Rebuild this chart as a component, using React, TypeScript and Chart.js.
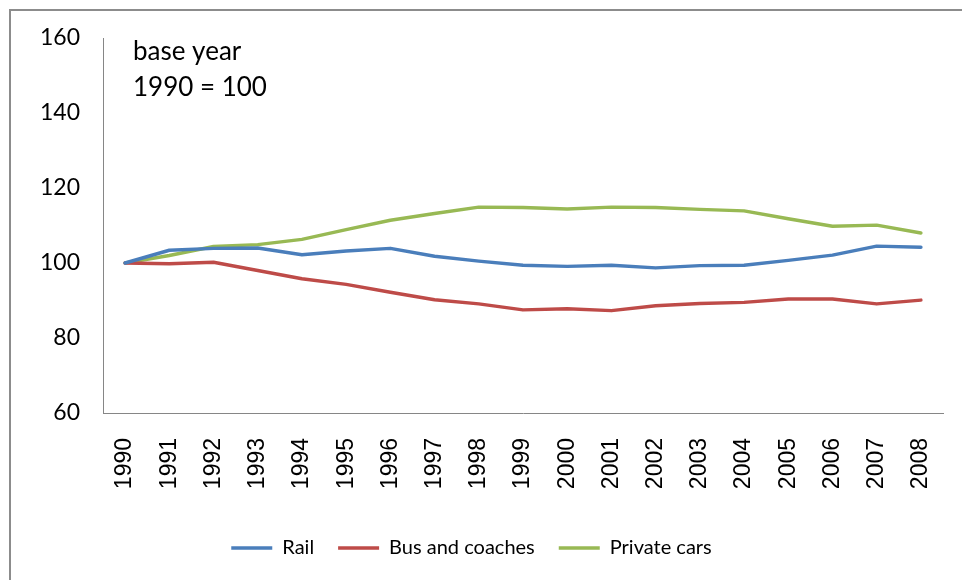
import React, { useEffect, useRef } from "react";
import { Chart, registerables } from "chart.js";

Chart.register(...registerables);

const years = ["1990","1991","1992","1993","1994","1995","1996","1997","1998","1999","2000","2001","2002","2003","2004","2005","2006","2007","2008"];
const rail = [100, 103.4, 103.9, 104.0, 102.2, 103.2, 103.9, 101.8, 100.5, 99.4, 99.1, 99.4, 98.7, 99.3, 99.4, 100.7, 102.1, 104.5, 104.2];
const bus = [100, 99.8, 100.2, 98.0, 95.8, 94.3, 92.2, 90.2, 89.1, 87.5, 87.8, 87.3, 88.6, 89.2, 89.5, 90.4, 90.4, 89.1, 90.1];
const cars = [100, 102.0, 104.4, 104.9, 106.3, 108.9, 111.4, 113.2, 114.9, 114.8, 114.4, 114.9, 114.8, 114.3, 113.9, 111.8, 109.8, 110.1, 108.0];
const yTicks = { min: 60, max: 160, step: 20 };
const noteLines = ["base year", "1990 = 100"];

const annotationPlugin = {
  id: "note",
  afterDraw(chart: any) {
    const ctx = chart.ctx;
    const a = chart.chartArea;
    ctx.save();
    ctx.fillStyle = "#000";
    ctx.font = "26px Lato";
    ctx.textBaseline = "alphabetic";
    ctx.textAlign = "left";
    ctx.fillText(noteLines[0], a.left + 30, a.top + 22);
    ctx.fillText(noteLines[1], a.left + 30, a.top + 58);
    ctx.restore();
  },
};

export default function App() {
  const ref = useRef<HTMLCanvasElement>(null);
  useEffect(() => {
    if (!ref.current) return;
    const mk = (label: string, data: number[], color: string) => ({
      label,
      data,
      borderColor: color,
      backgroundColor: color,
      borderWidth: 3.5,
      borderCapStyle: "round" as const,
      borderJoinStyle: "round" as const,
      pointRadius: 0,
      tension: 0,
      fill: false,
    });
    const chart = new Chart(ref.current, {
      type: "line",
      data: {
        labels: years,
        datasets: [
          mk("Rail", rail, "#4A7EBB"),
          mk("Bus and coaches", bus, "#BE4B48"),
          mk("Private cars", cars, "#98B954"),
        ],
      },
      plugins: [annotationPlugin],
      options: {
        responsive: false,
        animation: false,
        layout: { padding: { left: 0, top: 38, right: 19, bottom: 12 } },
        plugins: {
          tooltip: { enabled: false },
          legend: {
            position: "bottom",
            labels: {
              usePointStyle: true,
              pointStyle: "line",
              pointStyleWidth: 41,
              padding: 24,
              color: "#000",
              font: { family: "Lato", size: 20 },
            },
          },
        },
        scales: {
          x: {
            offset: true,
            grid: { display: false, drawTicks: false },
            border: { display: true, color: "#868686", width: 1 },
            ticks: {
              minRotation: 90,
              maxRotation: 90,
              padding: 25,
              color: "#000",
              font: { family: "'Liberation Sans', Arial", size: 23 },
            },
            afterFit(scale: any) {
              scale.height = 101;
              scale.paddingLeft = 0;
              scale.paddingRight = 0;
            },
          },
          y: {
            min: yTicks.min,
            max: yTicks.max,
            grid: { display: false, drawTicks: false },
            border: { display: true, color: "#868686", width: 1 },
            ticks: {
              stepSize: yTicks.step,
              padding: 23,
              color: "#000",
              font: { family: "Lato", size: 23 },
            },
            afterFit(scale: any) {
              scale.width = 103;
            },
          },
        },
      },
    });
    return () => chart.destroy();
  }, []);
  return (
    <div style={{ position: "absolute", left: 0, top: 0, width: 962, height: 580, background: "#fff" }}>
      <div
        style={{
          position: "absolute",
          left: 9,
          top: 9,
          width: 962,
          height: 580,
          borderLeft: "2px solid #8c8c8c",
          borderTop: "2px solid #8c8c8c",
        }}
      />
      <canvas ref={ref} width={962} height={580} style={{ position: "absolute", left: 0, top: 0 }} />
    </div>
  );
}
